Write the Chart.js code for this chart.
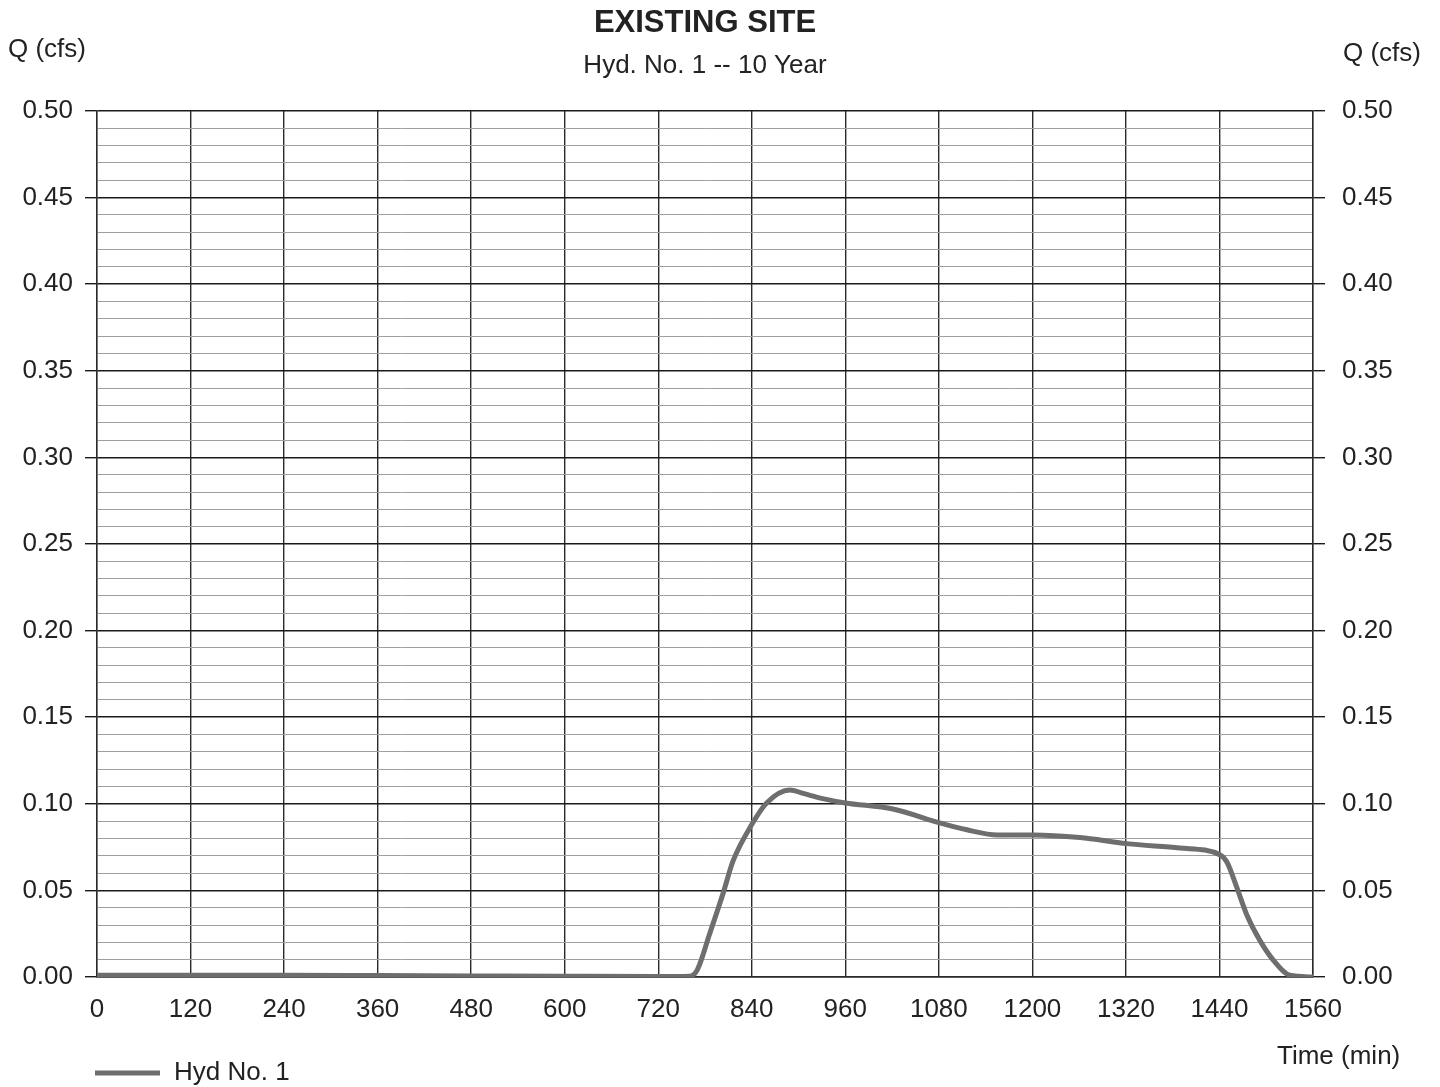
<!DOCTYPE html>
<html>
<head>
<meta charset="utf-8">
<title>EXISTING SITE - Hyd. No. 1 -- 10 Year</title>
<script src="https://cdn.jsdelivr.net/npm/chart.js@4/dist/chart.umd.min.js"></script>
<style>
  html, body { margin: 0; padding: 0; background: #ffffff; }
  canvas { display: block; }
</style>
</head>
<body>
<canvas id="hydro" width="1440" height="1087"></canvas>
<script>
// Hydrograph ordinates: time (min) and discharge Q (cfs)
const timeMin = [0, 120, 240, 360, 480, 600, 720, 760, 770, 786, 803, 816, 840, 859, 889, 906, 931, 960,
                 1021, 1081, 1116, 1155, 1201, 1261, 1321, 1389, 1441, 1450, 1462, 1475, 1492, 1509, 1530, 1560];
const flowCfs = [0.001, 0.001, 0.001, 0.0008, 0.0006, 0.0004, 0.0003, 0.0005, 0.004, 0.025, 0.048, 0.067, 0.088, 0.1005, 0.108, 0.106, 0.103, 0.1005,
                 0.097, 0.089, 0.085, 0.082, 0.082, 0.0805, 0.077, 0.0745, 0.0705, 0.066, 0.052, 0.036, 0.021, 0.0098, 0.001, 0];

// Axis settings
const timeTickStep = 120;
const timeMax = 1560;
const flowMax = 0.5;
const flowMinorStep = 0.01;
const flowMajorEvery = 5;   // label every 5th minor tick (0.05 cfs)

const chartTitle = 'EXISTING SITE';
const chartSubtitle = 'Hyd. No. 1 -- 10 Year';
const seriesLabel = 'Hyd No. 1';
const yAxisTitle = 'Q (cfs)';
const xAxisTitle = 'Time (min)';

const FONT = "'Liberation Sans', Arial, Helvetica, sans-serif";
const INK = '#222222';
const CURVE = '#6e6e6e';

const isMajor = v => Math.round(v / flowMinorStep) % flowMajorEvery === 0;

const points = timeMin.map((t, i) => ({ x: t, y: flowCfs[i] }));

// Titles, axis captions and legend drawn around the plot area
const annotations = {
  id: 'annotations',
  afterDraw(chart) {
    const { ctx, chartArea } = chart;
    const cx = (chartArea.left + chartArea.right) / 2;
    ctx.save();
    ctx.fillStyle = INK;
    ctx.textBaseline = 'middle';

    ctx.textAlign = 'center';
    ctx.font = `bold 31px ${FONT}`;
    ctx.fillText(chartTitle, cx, 23);
    ctx.font = `26px ${FONT}`;
    ctx.fillText(chartSubtitle, cx, 66);

    ctx.font = `26px ${FONT}`;
    ctx.textAlign = 'left';
    ctx.fillText(yAxisTitle, 8, 50);
    ctx.fillText(yAxisTitle, 1343, 54);
    ctx.fillText(xAxisTitle, 1277, 1057);

    // legend entry
    const ds = chart.data.datasets[0];
    ctx.strokeStyle = ds.borderColor;
    ctx.lineWidth = ds.borderWidth;
    ctx.beginPath();
    ctx.moveTo(95, 1073);
    ctx.lineTo(160, 1073);
    ctx.stroke();
    ctx.fillText(ds.label, 174, 1073);
    ctx.restore();
  }
};

const whiteBg = {
  id: 'whiteBg',
  beforeDraw(chart) {
    const { ctx } = chart;
    ctx.save();
    ctx.fillStyle = '#ffffff';
    ctx.fillRect(0, 0, chart.width, chart.height);
    ctx.restore();
  }
};

const flowTicks = {
  stepSize: flowMinorStep,
  autoSkip: false,
  color: INK,
  font: { family: FONT, size: 26 },
  callback: v => isMajor(v) ? v.toFixed(2) : ''
};

new Chart(document.getElementById('hydro'), {
  type: 'line',
  data: {
    datasets: [{
      label: seriesLabel,
      data: points,
      borderColor: CURVE,
      borderWidth: 5,
      pointRadius: 0,
      cubicInterpolationMode: 'monotone',
      fill: false,
      yAxisID: 'y'
    }]
  },
  options: {
    responsive: false,
    animation: false,
    layout: { padding: { top: 111, left: 0, right: 0, bottom: 0 } },
    plugins: {
      legend: { display: false },
      title: { display: false },
      tooltip: { enabled: false }
    },
    scales: {
      x: {
        type: 'linear',
        min: 0,
        max: timeMax,
        afterFit: s => { s.height = 110; },
        ticks: {
          stepSize: timeTickStep,
          autoSkip: false,
          maxRotation: 0,
          padding: 17,
          color: INK,
          font: { family: FONT, size: 26 },
          callback: v => String(v)
        },
        grid: { color: '#2a2a2a', lineWidth: 1.4, drawTicks: false },
        border: { display: true, color: '#2a2a2a', width: 1.4 }
      },
      y: {
        position: 'left',
        min: 0,
        max: flowMax,
        afterFit: s => { s.width = 97; },
        ticks: Object.assign({}, flowTicks, { padding: 12 }),
        grid: {
          color: c => isMajor(c.tick.value) ? '#1a1a1a' : '#a0a0a0',
          lineWidth: c => isMajor(c.tick.value) ? 1.4 : 1,
          tickColor: c => isMajor(c.tick.value) ? '#1a1a1a' : 'rgba(0,0,0,0)',
          tickLength: 12
        },
        border: { display: true, color: '#2a2a2a', width: 1.4 }
      },
      y2: {
        position: 'right',
        min: 0,
        max: flowMax,
        afterFit: s => { s.width = 127; },
        ticks: Object.assign({}, flowTicks, { padding: 17 }),
        grid: {
          drawOnChartArea: false,
          tickColor: c => isMajor(c.tick.value) ? '#1a1a1a' : 'rgba(0,0,0,0)',
          tickLength: 12,
          lineWidth: 1.4
        },
        border: { display: true, color: '#2a2a2a', width: 1.4 }
      }
    }
  },
  plugins: [whiteBg, annotations]
});
</script>
</body>
</html>
